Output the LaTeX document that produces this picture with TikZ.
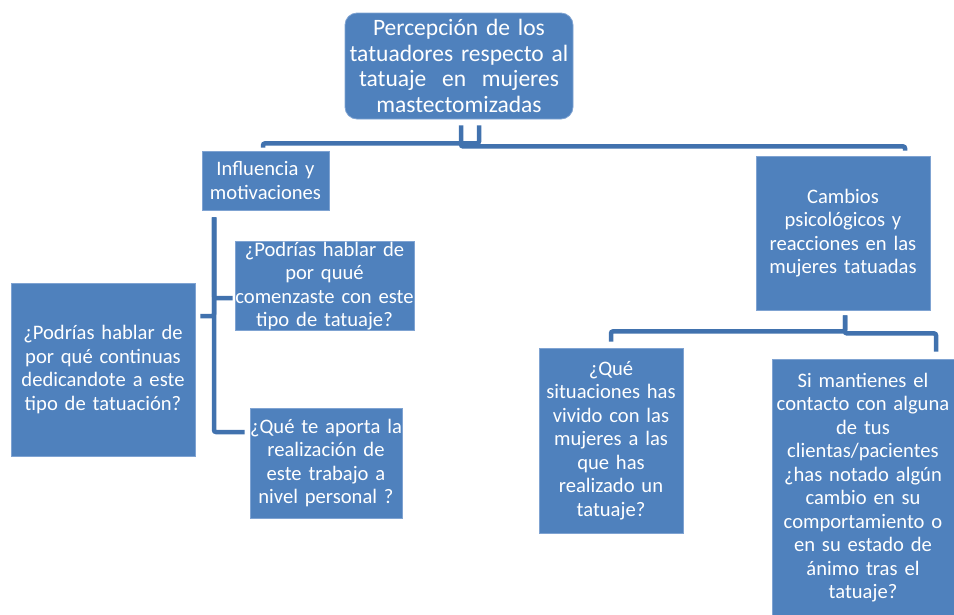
\documentclass[tikz,border=0pt]{standalone}
\usepackage{fontspec}
\setmainfont{Carlito}
\usetikzlibrary{calc}
\definecolor{boxblue}{HTML}{4F81BD}
\definecolor{boxedge}{HTML}{7FA3D2}
\definecolor{connblue}{HTML}{4172AE}
\begin{document}
\begin{tikzpicture}[x=1pt,y=-1pt,
  box/.style={rectangle, fill=boxblue, draw=boxedge, line width=0.8pt, text=white,
    align=center, inner sep=0pt, font=\fontsize{20.6}{23.5}\selectfont},
  conn/.style={draw=connblue, line width=4.5pt, rounded corners=2pt}]
\useasboundingbox (0,0) rectangle (954,614);
% nodes
\node[box, rounded corners=12pt, text width=228pt, minimum height=106pt,
  font=\fontsize{23.5}{25.5}\selectfont] (top) at (459,66)
  {Percepción de los\\tatuadores respecto al\\tatuaje\ \ en\ \ mujeres\\mastectomizadas};
\node[box, text width=127pt, minimum height=59pt] (infl) at (265.5,180.5)
  {Influencia y\\motivaciones};
\node[box, text width=174pt, minimum height=154pt] (camb) at (843,233)
  {Cambios\\psicológicos y\\reacciones en las\\mujeres tatuadas};
\node[box, text width=179pt, minimum height=88pt] (pod1) at (324.5,286)
  {¿Podrías hablar de\\por quué\\comenzaste con este\\tipo de tatuaje?};
\node[box, text width=184pt, minimum height=173pt] (left) at (103,369.5)
  {¿Podrías hablar de\\por qué continuas\\dedicandote a este\\tipo de tatuación?};
\node[box, text width=152pt, minimum height=110pt] (aporta) at (326,463)
  {¿Qué te aporta la\\realización de\\este trabajo a\\nivel personal ?};
\node[box, text width=144pt, minimum height=185pt] (sit) at (611,440.5)
  {¿Qué\\situaciones has\\vivido con las\\mujeres a las\\que has\\realizado un\\tatuaje?};
\node[box, text width=182pt, minimum height=257pt] (si) at (863,487.5)
  {Si mantienes el\\contacto con alguna\\de tus\\clientas/pacientes\\¿has notado algún\\cambio en su\\comportamiento o\\en su estado de\\ánimo tras el\\tatuaje?};
% connectors from top
\draw[conn] ([xshift=20pt,yshift=-6pt]top.south) -- ++(0,18) -| ([xshift=-2.5pt,yshift=3pt]infl.north);
\draw[conn] ([xshift=2pt,yshift=-6pt]top.south) -- ++(0,21) -| ([xshift=62pt,yshift=5pt]camb.north);
% connectors from influencia
\draw[conn] ([xshift=-51.5pt,yshift=-7pt]infl.south) |- ([xshift=-2pt,yshift=-12pt]pod1.west);
\draw[conn] ([xshift=-51.5pt,yshift=-7pt]infl.south) |- ([xshift=5pt,yshift=53.5pt]left.east);
\draw[conn] ([xshift=-51.5pt,yshift=-7pt]infl.south) |- ([xshift=-5pt,yshift=31pt]aporta.west);
% connectors from cambios
\draw[conn] ([xshift=2pt,yshift=-5pt]camb.south) -- ++(0,16) -| ([yshift=6pt]sit.north);
\draw[conn] ([xshift=2pt,yshift=-5pt]camb.south) -- ++(0,18) -| ([xshift=73pt,yshift=7pt]si.north);
\end{tikzpicture}
\end{document}
